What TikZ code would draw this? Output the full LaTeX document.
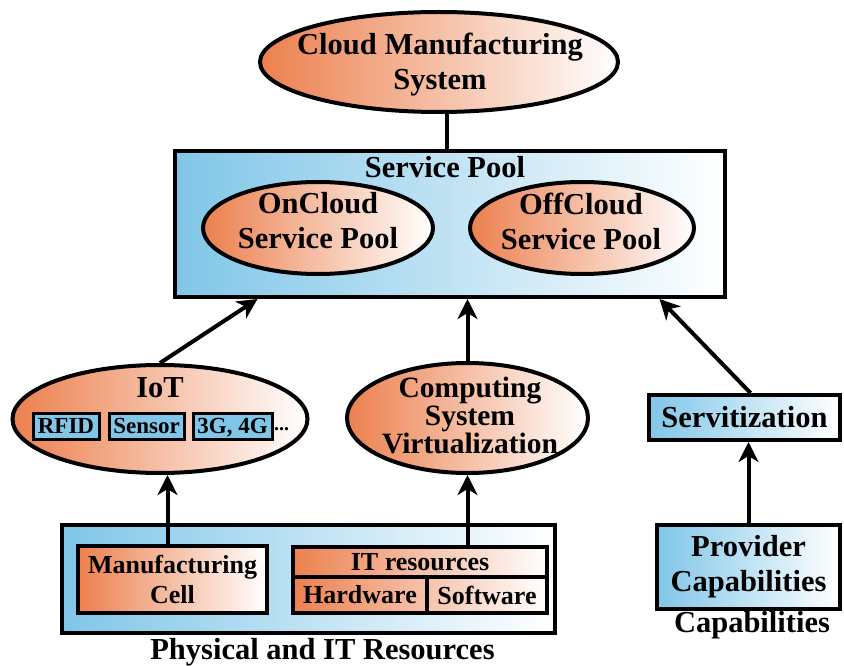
\documentclass[tikz,border=0pt]{standalone}
\usepackage{fontspec}
\setmainfont{Liberation Serif}
\usetikzlibrary{shapes.geometric,arrows.meta,calc}
\definecolor{corange}{RGB}{236,128,78}
\definecolor{cblue}{RGB}{128,198,232}
\newcommand\myfA{\fontsize{30.5}{35}\selectfont\bfseries}
\newcommand\myfB{\fontsize{26}{30}\selectfont\bfseries}
\newcommand\myfC{\fontsize{23}{26}\selectfont\bfseries}
\newcommand\myfD{\fontsize{29.5}{28}\selectfont\bfseries}
\tikzset{
  orell/.style={ellipse, draw, line width=4pt, left color=corange, right color=white, inner sep=0pt},
  bluebox/.style={rectangle, draw, line width=4pt, left color=cblue, right color=white, inner sep=0pt, font=\myfA, align=center},
  orbox/.style={rectangle, draw, line width=4pt, left color=corange, right color=white, inner sep=0pt, font=\myfB, align=center},
  tagbox/.style={rectangle, draw, line width=3pt, fill=cblue, inner sep=0pt, font=\myfC, text height=15.5pt, text depth=0.5pt},
  txt/.style={inner sep=0pt, align=center, font=\myfA},
  arr/.style={line width=4pt, -{Stealth[length=20pt, width=20pt, inset=6pt]}},
  plainline/.style={line width=4pt}
}
\begin{document}
\begin{tikzpicture}[x=1pt,y=-1pt]
\useasboundingbox (0,0) rectangle (844,666);

% Service pool
\node[bluebox, minimum width=550, minimum height=146] (sp) at (449.5,224) {};
\node[txt] (sptitle) at (445,167) {Service Pool};
\node[orell, minimum width=230, minimum height=92] (onc) at (318,228) {};
\node[txt] (onct) at (318,221) {OnCloud\\Service Pool};
\node[orell, minimum width=224, minimum height=92] (offc) at (582,228) {};
\node[txt] (offct) at (581,221) {OffCloud\\Service Pool};

% Top ellipse
\node[orell, minimum width=358, minimum height=100] (cms) at (439,62) {};
\node[txt] (cmst) at (440,65) {Cloud Manufacturing\\System};
\draw[plainline] ($(cms.south)+(8,0)$) -- ($(cms.south |- sp.north)+(8,0)$);

% IoT
\node[orell, minimum width=295, minimum height=108] (iot) at (160,419) {};
\node[txt] (iott) at (160,388) {IoT};
\node[tagbox, minimum width=66, minimum height=26] (rfid) at (66,426) {RFID};
\node[tagbox, minimum width=75, minimum height=26] (sensor) at (146.5,426) {Sensor};
\node[tagbox, minimum width=79, minimum height=26] (g34) at (232.5,426) {3G, 4G};
\node[font=\fontsize{20}{20}\selectfont\bfseries, anchor=base west, inner sep=0pt] (dots) at (274,430) {...};

% Computing
\node[orell, minimum width=241, minimum height=110] (comp) at (467.5,418) {};
\node[txt, font=\myfD] (compt) at (470,415) {Computing\\System\\Virtualization};

% Servitization / Provider
\node[bluebox, minimum width=191, minimum height=45] (serv) at (744.5,417.5) {Servitization};
\node[bluebox, minimum width=183, minimum height=84] (prov) at (748.5,567) {Provider\\Capabilities};
\node[txt] (capl) at (752,625) {Capabilities};

% Physical and IT resources
\node[bluebox, minimum width=493, minimum height=108] (phys) at (308.5,579) {};
\node[txt] (physl) at (322.5,652) {Physical and IT Resources};
\node[orbox, minimum width=189, minimum height=67] (mfg) at (172.5,579.5) {Manufacturing\\Cell};
\node[orbox, minimum width=254, minimum height=30] (itres) at (420,562) {IT resources};
\node[orbox, left color=corange, right color=corange!47!white, minimum width=134, minimum height=36] (hw) at (360,595) {Hardware};
\node[orbox, left color=corange!47!white, right color=white, minimum width=120, minimum height=36] (sw) at (487,595) {Software};

% Arrows
\draw[arr] (iot.north) -- ($(sp.south west)+(85,0)$);
\draw[arr] (comp.north) -- (comp.north |- sp.south);
\draw[arr] ($(serv.north)+(6,0)$) -- ($(sp.south east)+(-67,0)$);
\draw[arr] ($(mfg.north)+(-5,0)$) -- ($(mfg.north |- iot.south)+(-5,0)$);
\draw[arr] (comp.south |- itres.north) -- (comp.south);
\draw[arr] (prov.north) -- (prov.north |- serv.south);
\end{tikzpicture}
\end{document}
